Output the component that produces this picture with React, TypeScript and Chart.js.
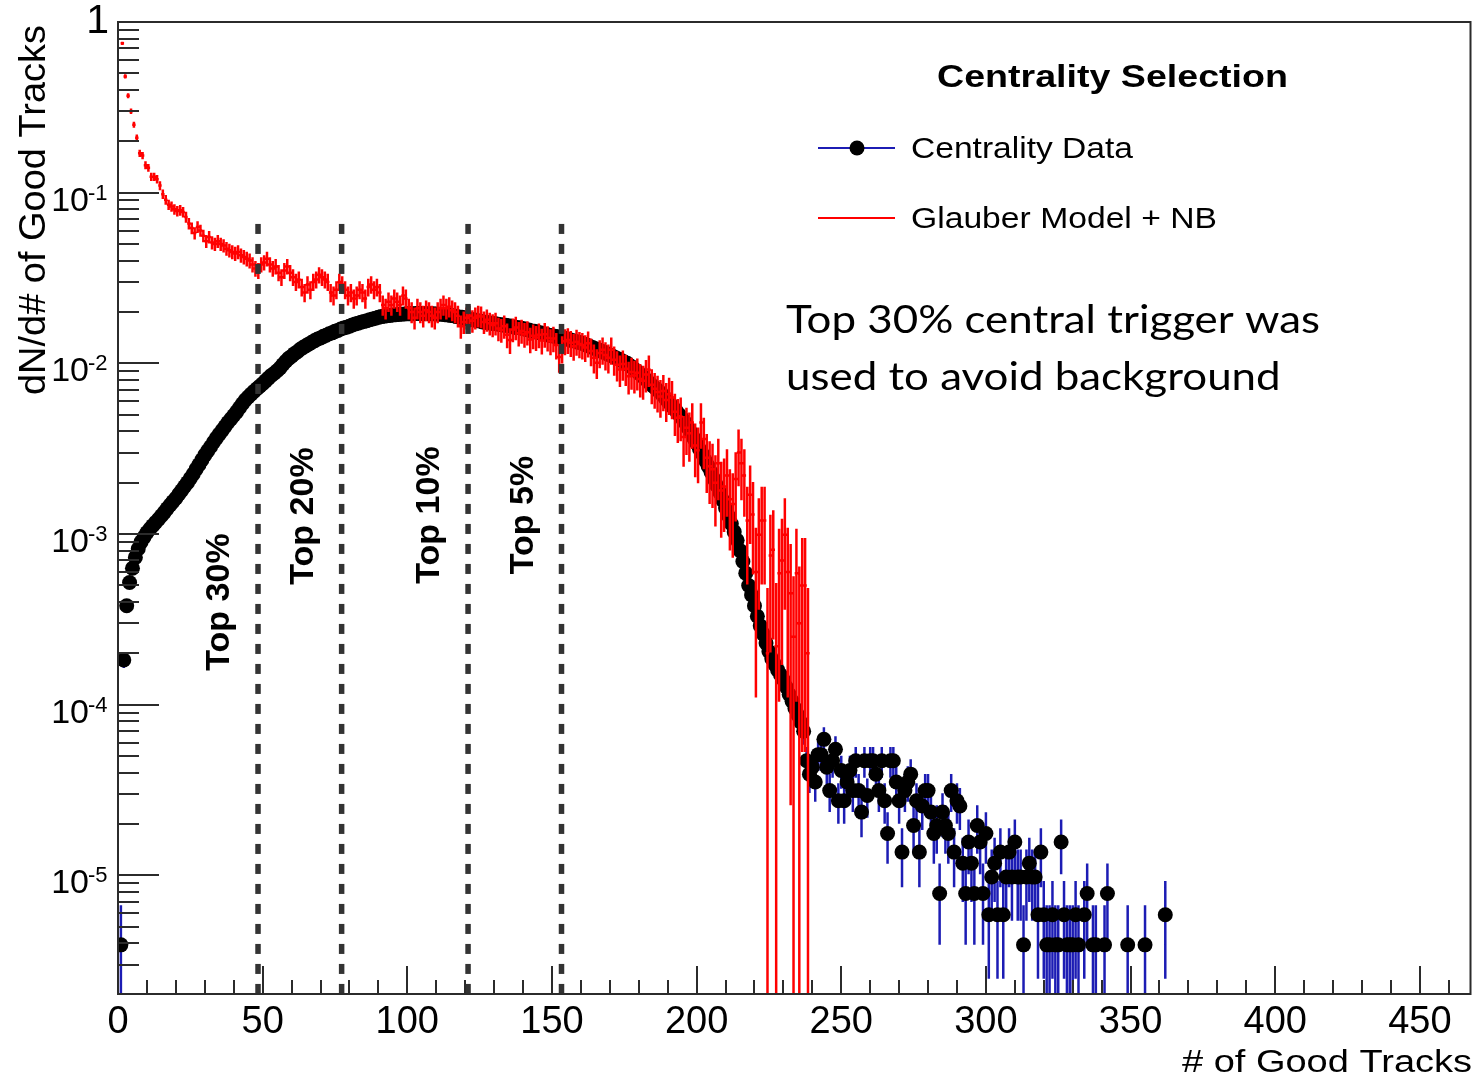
import React, { useEffect, useRef } from "react";
import { Chart, registerables } from "chart.js";

Chart.register(...registerables);

// ---------------- axis ranges & tick labels ----------------
const X_MIN = 0;
const X_MAX = 467.5;
const Y_MIN = 2.02e-6;
const Y_MAX = 1;

const xTickValues = [0, 50, 100, 150, 200, 250, 300, 350, 400, 450];
const xTickLabels = ["0", "50", "100", "150", "200", "250", "300", "350", "400", "450"];
const xMinorStep = 10;
const yDecadeValues = [1, 1e-1, 1e-2, 1e-3, 1e-4, 1e-5];
const yDecadeExponents = ["", "-1", "-2", "-3", "-4", "-5"];

// ---------------- Centrality Data (bins 1..362) ----------------
const DATA_FIRST_BIN = 1;
const COUNT_UNIT = 1.96e-6; // value of one entry
const dataValues: (number | null)[] = [
  3.92e-6, 1.83e-4, 3.8e-4, 5.2e-4, 6.3e-4, 7.3e-4, 8.2e-4, 9.0e-4, 9.6e-4, 1.02e-3,
  1.07e-3, 1.12e-3, 1.17e-3, 1.22e-3, 1.28e-3, 1.34e-3, 1.41e-3, 1.48e-3, 1.55e-3, 1.62e-3,
  1.71e-3, 1.8e-3, 1.9e-3, 2.0e-3, 2.12e-3, 2.25e-3, 2.4e-3, 2.55e-3, 2.72e-3, 2.9e-3,
  3.07e-3, 3.25e-3, 3.45e-3, 3.65e-3, 3.85e-3, 4.05e-3, 4.27e-3, 4.5e-3, 4.72e-3, 4.95e-3,
  5.2e-3, 5.5e-3, 5.8e-3, 6.1e-3, 6.35e-3, 6.6e-3, 6.85e-3, 7.1e-3, 7.35e-3, 7.6e-3,
  7.9e-3, 8.2e-3, 8.5e-3, 8.75e-3, 9.05e-3, 9.4e-3, 9.85e-3, 1.03e-2, 1.07e-2, 1.1e-2,
  1.14e-2, 1.17e-2, 1.21e-2, 1.24e-2, 1.27e-2, 1.3e-2, 1.33e-2, 1.36e-2, 1.39e-2, 1.41e-2,
  1.44e-2, 1.46e-2, 1.49e-2, 1.51e-2, 1.54e-2, 1.56e-2, 1.59e-2, 1.61e-2, 1.63e-2, 1.65e-2,
  1.68e-2, 1.7e-2, 1.72e-2, 1.74e-2, 1.76e-2, 1.78e-2, 1.8e-2, 1.82e-2, 1.84e-2, 1.86e-2,
  1.88e-2, 1.89e-2, 1.9e-2, 1.91e-2, 1.92e-2, 1.93e-2, 1.935e-2, 1.94e-2, 1.945e-2, 1.95e-2,
  1.95e-2, 1.955e-2, 1.96e-2, 1.96e-2, 1.96e-2, 1.955e-2, 1.955e-2, 1.95e-2, 1.95e-2, 1.945e-2,
  1.94e-2, 1.94e-2, 1.93e-2, 1.92e-2, 1.91e-2, 1.9e-2, 1.88e-2, 1.87e-2, 1.86e-2, 1.84e-2,
  1.83e-2, 1.81e-2, 1.8e-2, 1.78e-2, 1.77e-2, 1.75e-2, 1.74e-2, 1.73e-2, 1.72e-2, 1.71e-2,
  1.7e-2, 1.69e-2, 1.68e-2, 1.67e-2, 1.66e-2, 1.65e-2, 1.63e-2, 1.62e-2, 1.61e-2, 1.6e-2,
  1.58e-2, 1.57e-2, 1.55e-2, 1.54e-2, 1.52e-2, 1.51e-2, 1.49e-2, 1.48e-2, 1.46e-2, 1.45e-2,
  1.44e-2, 1.43e-2, 1.42e-2, 1.41e-2, 1.39e-2, 1.38e-2, 1.36e-2, 1.35e-2, 1.33e-2, 1.32e-2,
  1.3e-2, 1.28e-2, 1.26e-2, 1.24e-2, 1.22e-2, 1.2e-2, 1.18e-2, 1.16e-2, 1.14e-2, 1.12e-2,
  1.1e-2, 1.08e-2, 1.06e-2, 1.04e-2, 1.02e-2, 1.0e-2, 9.7e-3, 9.4e-3, 9.1e-3, 8.8e-3,
  8.5e-3, 8.2e-3, 7.9e-3, 7.6e-3, 7.35e-3, 7.1e-3, 6.85e-3, 6.6e-3, 6.3e-3, 6.0e-3,
  5.75e-3, 5.5e-3, 5.25e-3, 5.0e-3, 4.75e-3, 4.5e-3, 4.2e-3, 3.95e-3, 3.65e-3, 3.4e-3,
  3.15e-3, 2.95e-3, 2.7e-3, 2.5e-3, 2.3e-3, 2.1e-3, 1.92e-3, 1.75e-3, 1.58e-3, 1.42e-3,
  1.28e-3, 1.15e-3, 1.03e-3, 9.2e-4, 8.0e-4, 6.9e-4, 5.9e-4, 5.0e-4, 4.4e-4, 3.8e-4,
  3.3e-4, 2.9e-4, 2.6e-4, 2.3e-4, 2.05e-4, 1.86e-4, 1.72e-4, 1.6e-4, 1.5e-4, 1.4e-4,
  1.27e-4, 1.15e-4, 1.05e-4, 9.5e-5, 8.7e-5, 7.9e-5, 7.0e-5,
  4.7e-5, 3.92e-5, 4.31e-5, 3.53e-5, 5.1e-5, 5.1e-5, 6.27e-5, 4.31e-5, 3.14e-5, 4.7e-5,
  5.49e-5, 2.74e-5, 4.12e-5, 2.74e-5, 3.53e-5, 4.12e-5, 3.14e-5, 4.7e-5, 3.14e-5, 2.35e-5,
  4.7e-5, 2.94e-5, 4.7e-5, 4.7e-5, 3.92e-5, 3.14e-5, 4.7e-5, 2.74e-5, 1.76e-5, 4.7e-5,
  4.7e-5, 3.53e-5, 2.74e-5, 1.37e-5, 3.14e-5, 3.53e-5, 3.92e-5, 1.96e-5, 2.74e-5, 1.37e-5,
  2.55e-5, 3.14e-5, 3.14e-5, 2.35e-5, 1.76e-5, 1.96e-5, 7.84e-6, 2.35e-5, 1.96e-5, 1.76e-5,
  3.14e-5, 1.37e-5, 2.74e-5, 2.55e-5, 1.18e-5, 7.84e-6, 1.57e-5, 1.18e-5, 7.84e-6, 1.96e-5,
  1.57e-5, 7.84e-6, 1.76e-5, 5.88e-6, 9.8e-6, 1.18e-5, 5.88e-6, 1.37e-5, 5.88e-6, 9.8e-6,
  1.37e-5, 9.8e-6, 1.57e-5, 9.8e-6, 9.8e-6, 3.92e-6, 9.8e-6, 1.18e-5, 9.8e-6, 9.8e-6,
  5.88e-6, 1.37e-5, 5.88e-6, 3.92e-6, 3.92e-6, 5.88e-6, 3.92e-6, 3.92e-6, 1.57e-5, 5.88e-6,
  3.92e-6, 3.92e-6, 3.92e-6, 5.88e-6, 3.92e-6, null, 5.88e-6, 7.84e-6, null, 3.92e-6,
  3.92e-6, null, null, 3.92e-6, 7.84e-6, null, null, null, null, null,
  null, 3.92e-6, null, null, null, null, null, 3.92e-6, null, null,
  null, null, null, null, 5.88e-6,
];

// ---------------- Glauber Model + NB (bin centres 1.5..238.5) ----------------
const MODEL_FIRST_BIN = 1.5;
const MODEL_UNIT = 4e-4; // effective weight per simulated entry
const modelValues: number[] = [
  0.75, 0.48, 0.37, 0.3, 0.25, 0.21, 0.17, 0.165, 0.145, 0.14,
  0.124, 0.124, 0.12, 0.11, 0.098, 0.091, 0.085, 0.083, 0.08, 0.078,
  0.079, 0.077, 0.072, 0.066, 0.062, 0.058, 0.063, 0.06, 0.056, 0.052,
  0.055, 0.051, 0.05, 0.052, 0.05, 0.049, 0.047, 0.046, 0.045, 0.044,
  0.045, 0.043, 0.042, 0.041, 0.04, 0.038, 0.036, 0.035, 0.038, 0.039,
  0.041, 0.038, 0.036, 0.037, 0.034, 0.032, 0.035, 0.037, 0.034, 0.032,
  0.03, 0.031, 0.028, 0.026, 0.029, 0.027, 0.03, 0.031, 0.033, 0.032,
  0.031, 0.03, 0.026, 0.025, 0.027, 0.03, 0.029, 0.027, 0.025, 0.026,
  0.024, 0.025, 0.027, 0.026, 0.024, 0.028, 0.029, 0.027, 0.028, 0.026,
  0.022, 0.021, 0.023, 0.022, 0.024, 0.023, 0.022, 0.025, 0.024, 0.021,
  0.02, 0.0185, 0.021, 0.02, 0.019, 0.0205, 0.02, 0.019, 0.0185, 0.02,
  0.021, 0.022, 0.021, 0.0215, 0.0205, 0.02, 0.019, 0.0165, 0.0175, 0.0185,
  0.019, 0.0178, 0.0185, 0.019, 0.0188, 0.0175, 0.018, 0.0172, 0.0168, 0.0172,
  0.016, 0.0157, 0.0165, 0.0147, 0.0137, 0.0158, 0.0162, 0.015, 0.0155, 0.0148,
  0.0152, 0.0138, 0.0145, 0.0142, 0.0147, 0.0136, 0.0148, 0.0141, 0.0135, 0.014,
  0.0128, 0.0109, 0.0122, 0.0135, 0.0137, 0.0132, 0.0126, 0.0134, 0.013, 0.0128,
  0.0124, 0.0131, 0.0118, 0.0108, 0.0101, 0.0115, 0.012, 0.0112, 0.0108, 0.012,
  0.0105, 0.0098, 0.0092, 0.0099, 0.0093, 0.0084, 0.0089, 0.0085, 0.0088, 0.0081,
  0.0079, 0.0086, 0.0092, 0.0075, 0.0071, 0.0068, 0.0064, 0.0069, 0.0061, 0.0066,
  0.0063, 0.0052, 0.0048, 0.0049, 0.0037, 0.0042, 0.0039, 0.0045, 0.0033, 0.0031,
  0.0045, 0.0036, 0.0028, 0.0025, 0.0024, 0.002, 0.0026, 0.0018, 0.0019, 0.0022,
  0.0016, 0.0015, 0.0021, 0.003, 0.0026, 0.0022, 0.0012, 0.0017, 0.0013, 0.0006,
  0.00099, 0.0012, 0.0012, 0.0002, 0.00075, 0.00081, 0.00022, 0.00059, 0.0007, 0.00099,
  0.0006, 0.00045, 0.00025, 0.00059, 0.0003, 0.0005, 0.0005, 0.0002,
];

// ---------------- centrality cuts ----------------
const cutPositions = [48.4, 77.3, 121.0, 153.3];
const cutLabels = ["Top 30%", "Top 20%", "Top 10%", "Top 5%"];
const CUT_TOP = 0.0656;

// ---------------- texts ----------------
const xTitle = "# of Good Tracks";
const yTitle = "dN/d# of Good Tracks";
const legendTitle = "Centrality Selection";
const legendEntries = ["Centrality Data", "Glauber Model + NB"];
const noteLines = ["Top 30% central trigger was", "used to avoid background"];

// ---------------- styling ----------------
const ROOT_FONT = '"Liberation Sans", Arial, Helvetica, sans-serif';
const NOTE_FONT = 'Lato, "Open Sans", sans-serif';
const AXIS_COLOR = "#2b2b2b";
const BLUE = "#1c1cb4";
const RED = "#ff0000";
const CUT_LABEL_Y = [602, 516, 515, 515];

function drawText(
  ctx: CanvasRenderingContext2D,
  text: string,
  x: number,
  y: number,
  font: string,
  opts: { align?: "left" | "right" | "center"; width?: number; sx?: number; rotate?: boolean } = {}
) {
  ctx.save();
  ctx.font = font;
  const w = ctx.measureText(text).width;
  const sx = opts.width ? opts.width / w : opts.sx ?? 1;
  ctx.translate(x, y);
  if (opts.rotate) ctx.rotate(-Math.PI / 2);
  ctx.scale(sx, 1);
  ctx.textAlign = "left";
  ctx.textBaseline = "alphabetic";
  const a = opts.align ?? "left";
  const off = a === "left" ? 0 : a === "right" ? -w : -w / 2;
  ctx.fillText(text, off, 0);
  ctx.restore();
  return sx;
}

const rootPlugin = {
  id: "rootStyle",
  beforeDraw(chart: any) {
    const { ctx, width, height } = chart;
    ctx.save();
    ctx.fillStyle = "#ffffff";
    ctx.fillRect(0, 0, width, height);
    ctx.restore();
  },
  afterDatasetsDraw(chart: any) {
    const { ctx, chartArea: a } = chart;
    const xs = chart.scales.x;
    const ys = chart.scales.y;
    ctx.save();
    ctx.strokeStyle = AXIS_COLOR;
    ctx.lineWidth = 2;
    ctx.strokeRect(a.left, a.top, a.right - a.left, a.bottom - a.top);
    ctx.beginPath();
    for (let v = X_MIN; v <= X_MAX; v += xMinorStep) {
      const px = Math.round(xs.getPixelForValue(v));
      const major = xTickValues.includes(v);
      ctx.moveTo(px, a.bottom);
      ctx.lineTo(px, a.bottom - (major ? 28 : 14));
    }
    for (let k = -6; k <= 0; k++) {
      for (let m = 1; m <= 9; m++) {
        const v = m * Math.pow(10, k);
        if (v < Y_MIN * 1.001 || v > Y_MAX * 1.001) continue;
        const py = Math.round(ys.getPixelForValue(v));
        ctx.moveTo(a.left, py);
        ctx.lineTo(a.left + (m === 1 ? 41 : 21), py);
      }
    }
    ctx.stroke();
    ctx.restore();
  },
  afterDraw(chart: any) {
    const { ctx } = chart;
    const xs = chart.scales.x;
    const ys = chart.scales.y;
    ctx.save();
    ctx.fillStyle = "#000";
    // x tick labels
    xTickValues.forEach((v, i) => {
      drawText(ctx, xTickLabels[i], xs.getPixelForValue(v), 1033, `38px ${ROOT_FONT}`, { align: "center" });
    });
    // y tick labels
    yDecadeValues.forEach((v, i) => {
      const py = ys.getPixelForValue(v);
      if (yDecadeExponents[i] === "") {
        drawText(ctx, "1", 109, py + 11, `41px ${ROOT_FONT}`, { align: "right" });
      } else {
        drawText(ctx, "10", 89, py + 18, `34px ${ROOT_FONT}`, { align: "right" });
        drawText(ctx, yDecadeExponents[i], 88, py + 7, `22px ${ROOT_FONT}`, { align: "left" });
      }
    });
    // axis titles
    drawText(ctx, xTitle, 1472, 1072, `31px ${ROOT_FONT}`, { align: "right", width: 290 });
    drawText(ctx, yTitle, 45, 210, `37px ${ROOT_FONT}`, { align: "center", width: 370, rotate: true });
    // cut labels
    cutPositions.forEach((c, i) => {
      const px = xs.getPixelForValue(c);
      drawText(ctx, cutLabels[i], px - 29, CUT_LABEL_Y[i], `bold 34px ${ROOT_FONT}`, { align: "center", rotate: true });
    });
    // legend
    drawText(ctx, legendTitle, 937, 87, `bold 31px ${ROOT_FONT}`, { width: 351 });
    ctx.strokeStyle = BLUE;
    ctx.lineWidth = 2;
    ctx.beginPath();
    ctx.moveTo(818, 148);
    ctx.lineTo(895, 148);
    ctx.stroke();
    ctx.fillStyle = "#000";
    ctx.beginPath();
    ctx.arc(857, 148, 7.5, 0, Math.PI * 2);
    ctx.fill();
    ctx.strokeStyle = RED;
    ctx.beginPath();
    ctx.moveTo(818, 218);
    ctx.lineTo(895, 218);
    ctx.stroke();
    drawText(ctx, legendEntries[0], 911, 158, `29px ${ROOT_FONT}`, { width: 222 });
    drawText(ctx, legendEntries[1], 911, 228, `29px ${ROOT_FONT}`, { width: 306 });
    // note
    const sx = drawText(ctx, noteLines[0], 786, 333, `39px ${NOTE_FONT}`, { width: 534 });
    drawText(ctx, noteLines[1], 786, 390, `39px ${NOTE_FONT}`, { sx });
    ctx.restore();
  },
};

export default function App() {
  const ref = useRef<HTMLCanvasElement>(null);
  useEffect(() => {
    const canvas = ref.current;
    if (!canvas) return;

    const points: { x: number; y: number }[] = [];
    const blueBars: { x: number; y: number | null }[] = [];
    dataValues.forEach((v, i) => {
      if (v == null) return;
      const x = DATA_FIRST_BIN + i;
      const e = Math.sqrt(v * COUNT_UNIT);
      points.push({ x, y: v });
      blueBars.push({ x, y: v - e > 0 ? v - e : 1e-12 }, { x, y: v + e }, { x, y: null });
    });

    const redBars: { x: number; y: number | null }[] = [];
    modelValues.forEach((v, i) => {
      const x = MODEL_FIRST_BIN + i;
      const e = Math.sqrt(v * MODEL_UNIT);
      redBars.push({ x, y: v - e > 0 ? v - e : 1e-12 }, { x, y: v + e }, { x, y: null });
      redBars.push({ x: x - 0.6, y: v }, { x: x + 0.6, y: v }, { x, y: null });
    });

    const cutSets = cutPositions.map((c) => ({
      type: "line" as const,
      data: [
        { x: c, y: CUT_TOP },
        { x: c, y: Y_MIN },
      ],
      borderColor: "#333333",
      borderWidth: 5.5,
      borderDash: [10, 10],
      borderCapStyle: "butt" as const,
      pointRadius: 0,
      showLine: true,
      order: 0,
    }));

    const chart = new Chart(canvas, {
      type: "scatter",
      data: {
        datasets: [
          ...cutSets,
          {
            type: "line",
            data: redBars as any,
            borderColor: RED,
            borderWidth: 2.5,
            pointRadius: 0,
            showLine: true,
            spanGaps: false,
            order: 1,
          },
          {
            type: "scatter",
            data: points,
            pointRadius: 7.5,
            pointBackgroundColor: "#000000",
            pointBorderWidth: 0,
            order: 2,
          },
          {
            type: "line",
            data: blueBars as any,
            borderColor: BLUE,
            borderWidth: 2.5,
            pointRadius: 0,
            showLine: true,
            spanGaps: false,
            order: 3,
          },
        ] as any,
      },
      options: {
        animation: false,
        responsive: false,
        devicePixelRatio: 1,
        events: [],
        layout: { padding: { left: 118, right: 5, top: 22, bottom: 84 } },
        plugins: { legend: { display: false }, tooltip: { enabled: false }, title: { display: false } },
        scales: {
          x: { type: "linear", min: X_MIN, max: X_MAX, display: false, offset: false },
          y: { type: "logarithmic", min: Y_MIN, max: Y_MAX, display: false },
        },
      },
      plugins: [rootPlugin],
    });
    return () => chart.destroy();
  }, []);

  return (
    <div style={{ position: "absolute", left: 0, top: 0, width: 1478, height: 1078, background: "#fff" }}>
      <canvas ref={ref} width={1478} height={1078} style={{ display: "block", width: 1478, height: 1078 }} />
    </div>
  );
}
